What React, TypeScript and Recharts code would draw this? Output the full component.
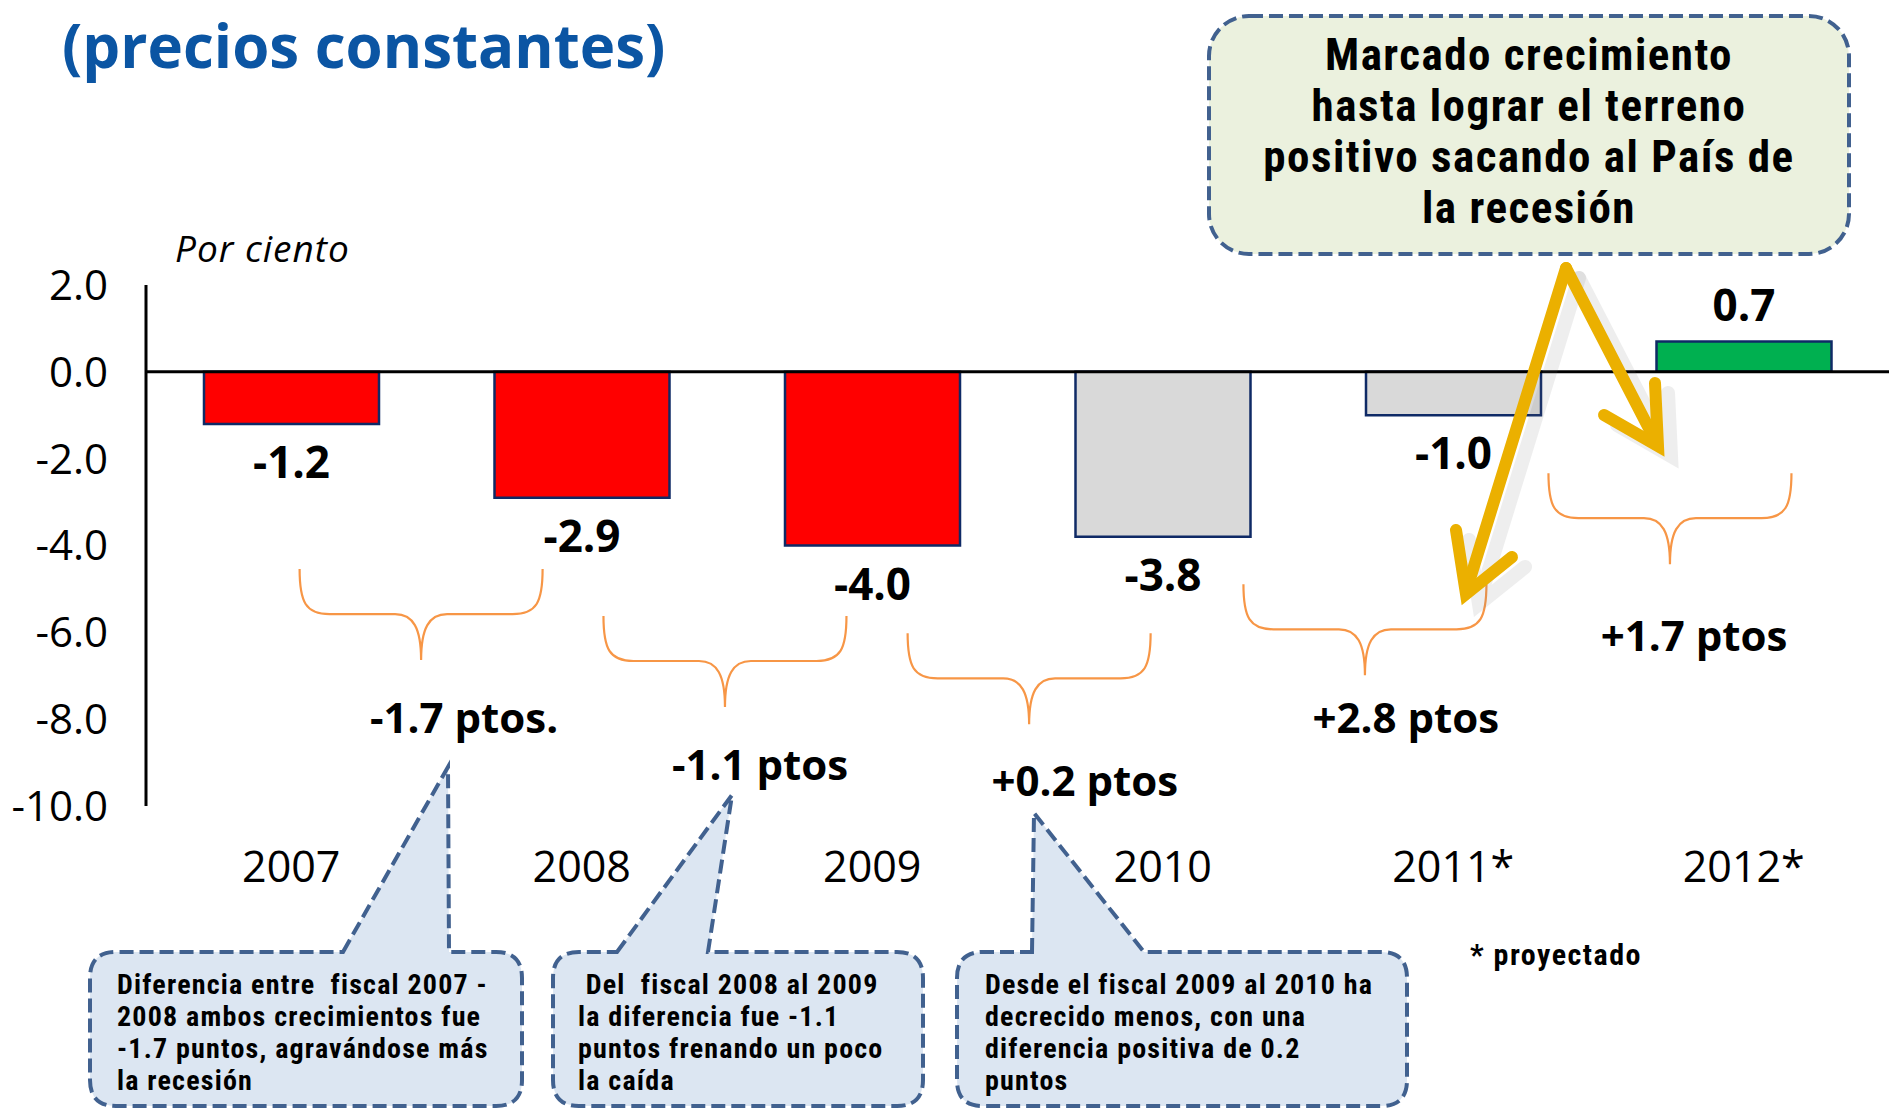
import React from "react";
import { ComposedChart, Bar, Cell, XAxis, YAxis, ReferenceLine, ReferenceDot, LabelList } from "recharts";

const years = ["2007", "2008", "2009", "2010", "2011*", "2012*"];
const growth = [-1.2, -2.9, -4.0, -3.8, -1.0, 0.7];
const barColors = ["#FF0000", "#FF0000", "#FF0000", "#D9D9D9", "#D9D9D9", "#00B050"];
const yTicks = [2, 0, -2, -4, -6, -8, -10];

// braces between years: x on a 0..6 category scale, y in per cent
const braceX = [0.947, 1.993, 3.04, 4.196, 5.246];
const braceY = [-5.58, -6.66, -7.06, -5.93, -3.37];
const diffLabels = ["-1.7 ptos.", "-1.1 ptos", "+0.2 ptos", "+2.8 ptos", "+1.7 ptos"];
const diffX = [1.095, 2.114, 3.232, 4.337, 5.329];
const diffY = [-7.95, -9.01, -9.4, -7.93, -6.06];

const noteGreen = ["Marcado crecimiento", "hasta lograr el terreno", "positivo sacando al País de", "la recesión"];
const note1 = ["Diferencia entre  fiscal 2007 -", "2008 ambos crecimientos fue", "-1.7 puntos, agravándose más", "la recesión"];
const note2 = [" Del  fiscal 2008 al 2009", "la diferencia fue -1.1", "puntos frenando un poco", "la caída"];
const note3 = ["Desde el fiscal 2009 al 2010 ha", "decrecido menos, con una", "diferencia positiva de 0.2", "puntos"];

// pos = centre of each year on the 0..6 scale used by the annotations
const chartData = years.map((year, i) => ({ year, value: growth[i], pos: i + 0.5 }));

const SANS = "'Open Sans', 'Noto Sans', sans-serif";
const NARROW = "'Liberation Sans Narrow', 'Roboto Condensed', 'Arial Narrow', Roboto, sans-serif";
const BORDER = "#41618F";

function Brace(props: any) {
  const { cx, cy } = props;
  const w = 243, up = 45, down = 46;
  const x0 = cx - w / 2, x1 = cx + w / 2;
  const d = `M${x0},${cy - up} C${x0},${cy - 12} ${x0 + 6},${cy} ${x0 + 30},${cy} L${cx - 26},${cy} C${cx - 8},${cy} ${cx},${cy + 14} ${cx},${cy + down} C${cx},${cy + 14} ${cx + 8},${cy} ${cx + 26},${cy} L${x1 - 30},${cy} C${x1 - 6},${cy} ${x1},${cy - 12} ${x1},${cy - up}`;
  return <path d={d} fill="none" stroke="#F79646" strokeWidth={2.2} />;
}

function ValueLabel(props: any) {
  const { x, y, width, height, value } = props;
  const top = Math.min(y, y + height);
  const bottom = Math.max(y, y + height);
  const ty = value < 0 ? bottom + 37 : top - 37;
  return (
    <text x={x + width / 2} y={ty} textAnchor="middle" dominantBaseline="central"
      fontFamily={SANS} fontWeight={700} fontSize={44} fill="#000">
      {Number(value).toFixed(1)}
    </text>
  );
}

function Callout({ x0, y0, x1, y1, a, tip, b, lines, tx }: any) {
  const r = 26;
  const d = `M${a},${y0} L${tip[0]},${tip[1]} L${b},${y0} L${x1 - r},${y0} Q${x1},${y0} ${x1},${y0 + r} L${x1},${y1 - r} Q${x1},${y1} ${x1 - r},${y1} L${x0 + r},${y1} Q${x0},${y1} ${x0},${y1 - r} L${x0},${y0 + r} Q${x0},${y0} ${x0 + r},${y0} Z`;
  return (
    <g>
      <path d={d} fill="#DCE6F2" stroke={BORDER} strokeWidth={4} strokeDasharray="14 6" />
      {lines.map((t: string, i: number) => (
        <text key={i} x={tx} y={y0 + 42 + i * 32} fontFamily={NARROW} fontWeight={700} fontSize={28}
          letterSpacing={1.2} fill="#000" style={{ whiteSpace: "pre" }}>
          {t}
        </text>
      ))}
    </g>
  );
}

function Arrow({ pts, head }: any) {
  const line = pts.map((p: number[]) => p.join(",")).join(" ");
  const hd = head.map((p: number[]) => p.join(",")).join(" ");
  return (
    <g>
      <g transform="translate(13,10)" opacity={0.12}>
        <polyline points={line} fill="none" stroke="#777" strokeWidth={14} strokeLinecap="round" />
        <polyline points={hd} fill="none" stroke="#777" strokeWidth={14} strokeLinecap="round" />
      </g>
      <polyline points={line} fill="none" stroke="#EBB000" strokeWidth={12} strokeLinecap="round" />
      <polyline points={hd} fill="none" stroke="#EBB000" strokeWidth={12} strokeLinecap="round" strokeLinejoin="miter" />
    </g>
  );
}

export default function App() {
  return (
    <div style={{ position: "absolute", left: 0, top: 0, width: 1889, height: 1110, background: "#fff", overflow: "hidden" }}>
      <ComposedChart width={1889} height={1110} data={chartData}
        margin={{ top: 285, right: 0, bottom: 244, left: 0 }}>
        <XAxis dataKey="year" axisLine={false} tickLine={false} tickSize={0} tickMargin={45} height={60}
          tick={{ fontFamily: SANS, fontSize: 43, fill: "#000" }} interval={0} />
        <XAxis xAxisId="pos" dataKey="pos" type="number" domain={[0, 6]} allowDataOverflow hide />
        <YAxis width={146} domain={[-10, 2]} ticks={yTicks} interval={0} tickLine={false} tickSize={0} tickMargin={38}
          axisLine={{ stroke: "#000", strokeWidth: 3 }}
          tickFormatter={(v: number) => v.toFixed(1)}
          tick={{ fontFamily: SANS, fontSize: 42, fill: "#000" }} />
        <Bar dataKey="value" barSize={175} stroke="#0F2A66" strokeWidth={2.5} isAnimationActive={false}>
          {chartData.map((d, i) => (
            <Cell key={d.year} fill={barColors[i]} />
          ))}
          <LabelList dataKey="value" content={<ValueLabel />} />
        </Bar>
        <ReferenceLine y={0} stroke="#000" strokeWidth={3} />
        {braceX.map((bx, i) => (
          <ReferenceDot key={"b" + i} xAxisId="pos" x={bx} y={braceY[i]} r={0} ifOverflow="visible"
            shape={(p: any) => <Brace {...p} />} />
        ))}
        {diffX.map((dx, i) => (
          <ReferenceDot key={"t" + i} xAxisId="pos" x={dx} y={diffY[i]} r={0} ifOverflow="visible"
            shape={(p: any) => (
              <text x={p.cx} y={p.cy} textAnchor="middle" dominantBaseline="central"
                fontFamily={SANS} fontWeight={700} fontSize={42} fill="#000">
                {diffLabels[i]}
              </text>
            )} />
        ))}
      </ComposedChart>

      <svg width={1889} height={1110} style={{ position: "absolute", left: 0, top: 0, pointerEvents: "none" }}>
        <text x={62} y={68} fontFamily={SANS} fontWeight={700} fontSize={60} fill="#0B55A3">(precios constantes)</text>
        <text x={175} y={262} fontFamily={SANS} fontStyle="italic" fontSize={37} letterSpacing={1} fill="#000">Por ciento</text>

        <rect x={1209} y={16} width={640} height={238} rx={40} fill="#EBF1DE" stroke={BORDER} strokeWidth={4} strokeDasharray="14 6" />
        {noteGreen.map((t, i) => (
          <text key={i} x={1529} y={70 + i * 51} textAnchor="middle" fontFamily={NARROW} fontWeight={700} fontSize={45}
            letterSpacing={1.5} fill="#000">{t}</text>
        ))}

        <Arrow pts={[[1566, 268], [1466, 592]]} head={[[1456, 530], [1466, 594], [1512, 557]]} />
        <Arrow pts={[[1566, 268], [1656, 442]]} head={[[1655, 383], [1658, 446], [1604, 415]]} />

        <Callout x0={90} y0={952} x1={522} y1={1106} a={343} tip={[448, 767]} b={449} lines={note1} tx={117} />
        <Callout x0={553} y0={952} x1={923} y1={1106} a={617} tip={[732, 795]} b={708} lines={note2} tx={578} />
        <Callout x0={957} y0={952} x1={1407} y1={1106} a={1032} tip={[1034, 813]} b={1144} lines={note3} tx={985} />

        <text x={1470} y={965} fontFamily={NARROW} fontWeight={700} fontSize={30} letterSpacing={1.5} fill="#000">* proyectado</text>
      </svg>
    </div>
  );
}
